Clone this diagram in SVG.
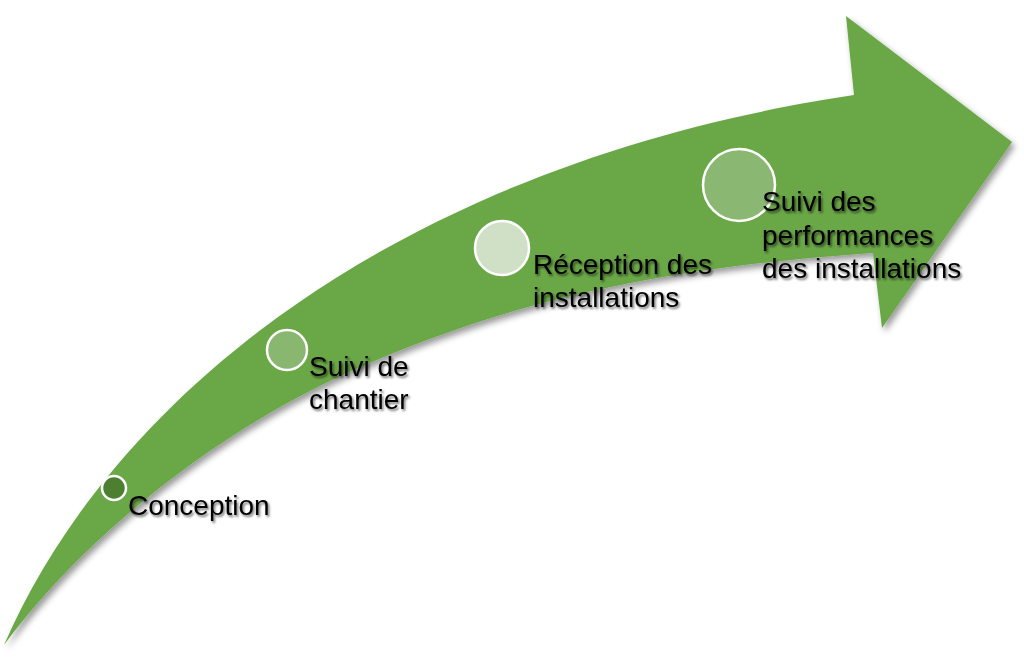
<svg xmlns="http://www.w3.org/2000/svg" width="1024" height="658" viewBox="0 0 1024 658">
  <defs>
    <filter id="arrowShadow" x="-5%" y="-5%" width="115%" height="115%">
      <feDropShadow dx="3" dy="4" stdDeviation="3" flood-color="#000" flood-opacity="0.4"/>
    </filter>
    <filter id="textShadow" x="-10%" y="-20%" width="130%" height="160%">
      <feDropShadow dx="1.5" dy="2" stdDeviation="1.3" flood-color="#000" flood-opacity="0.55"/>
    </filter>
  </defs>
  <style>
    .lbl { font-family: "Liberation Sans", Arial, sans-serif; font-size: 28px; fill: #000; filter: url(#textShadow); }
    .dot { stroke: #ffffff; stroke-width: 2.5; }
  </style>
  <rect width="1024" height="658" fill="#ffffff"/>
  <g id="arrow">
    <path d="M 4,645 C 120,380 420,160 854,95 L 846,16 L 1012,142 L 882,328 L 873,253 C 673,267 517,296.5 347,373 C 232,425 94,523.5 4,645 Z" fill="#6aa746" filter="url(#arrowShadow)"/>
  </g>
  <g id="connectors"></g>
  <g id="conception">
    <circle class="dot" cx="114" cy="488" r="12" fill="#4d7f31"/>
    <text class="lbl" x="128" y="515">Conception</text>
  </g>
  <g id="suivi-chantier">
    <circle class="dot" cx="287" cy="350" r="20" fill="#89b770"/>
    <text class="lbl" x="309" y="376">Suivi de</text>
    <text class="lbl" x="309" y="409">chantier</text>
  </g>
  <g id="reception">
    <circle class="dot" cx="502" cy="248" r="27" fill="#d0e0c7"/>
    <text class="lbl" x="533" y="274">Réception des</text>
    <text class="lbl" x="533" y="307">installations</text>
  </g>
  <g id="suivi-performances">
    <circle class="dot" cx="739" cy="185" r="36" fill="#8ab872"/>
    <text class="lbl" x="762" y="211">Suivi des</text>
    <text class="lbl" x="762" y="245">performances</text>
    <text class="lbl" x="762" y="278">des installations</text>
  </g>
</svg>
